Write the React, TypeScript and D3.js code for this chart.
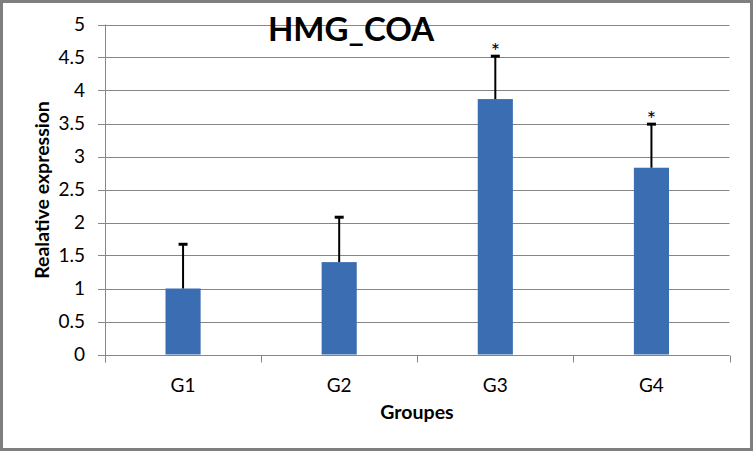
import { useEffect, useRef } from 'react';
import * as d3 from 'd3';

const groups = ['G1', 'G2', 'G3', 'G4'];
const means = [1.0, 1.4, 3.87, 2.83];
const errors = [0.67, 0.68, 0.65, 0.66];
const significant = [false, false, true, true];
const yTicks = [0, 0.5, 1, 1.5, 2, 2.5, 3, 3.5, 4, 4.5, 5];

export default function App() {
  const svgRef = useRef<SVGSVGElement>(null);

  useEffect(() => {
    if (!svgRef.current) return;
    document.body.style.margin = '0';

    const width = 753;
    const height = 451;
    const margin = { top: 24.5, right: 23.5, bottom: 96.5, left: 105 };
    const font = 'Lato, "Open Sans", sans-serif';
    const gridColor = '#868686';

    const svg = d3.select(svgRef.current);
    svg.selectAll('*').remove();

    svg.append('rect')
      .attr('x', 1.5).attr('y', 1.5)
      .attr('width', width - 3).attr('height', height - 3)
      .attr('fill', '#fff')
      .attr('stroke', '#7f7f7f')
      .attr('stroke-width', 3);

    const x = d3.scaleBand()
      .domain(groups)
      .range([margin.left, width - margin.right]);

    const y = d3.scaleLinear()
      .domain([0, 5])
      .range([height - margin.bottom, margin.top]);

    // horizontal grid with left tick marks
    svg.append('g')
      .selectAll('line')
      .data(yTicks.filter(d => d > 0))
      .join('line')
      .attr('x1', margin.left - 7)
      .attr('x2', width - margin.right)
      .attr('y1', d => Math.round(y(d)) + 0.5)
      .attr('y2', d => Math.round(y(d)) + 0.5)
      .attr('stroke', gridColor)
      .attr('stroke-width', 1);

    svg.append('g')
      .selectAll('text')
      .data(yTicks)
      .join('text')
      .attr('x', margin.left - 20)
      .attr('y', d => y(d))
      .attr('dy', '0.36em')
      .attr('text-anchor', 'end')
      .attr('font-family', font)
      .attr('font-size', 19)
      .attr('fill', '#000')
      .text(d => String(d));

    const x0 = x.range()[0];
    const x1 = x.range()[1];
    const y0 = Math.round(y(0)) + 0.5;

    // bars
    const bw = x.bandwidth() * 0.225;
    svg.append('g')
      .selectAll('rect')
      .data(groups)
      .join('rect')
      .attr('x', (d) => (x(d) as number) + x.bandwidth() / 2 - bw / 2)
      .attr('y', (_, i) => y(means[i]))
      .attr('width', bw)
      .attr('height', (_, i) => y(0) - y(means[i]))
      .attr('fill', '#3b6db3');

    // axes
    svg.append('line')
      .attr('x1', x0 - 7).attr('x2', x1)
      .attr('y1', y0).attr('y2', y0)
      .attr('stroke', gridColor);
    svg.append('line')
      .attr('x1', x0 + 0.5).attr('x2', x0 + 0.5)
      .attr('y1', y(5)).attr('y2', y0 + 7)
      .attr('stroke', gridColor);

    const catTicks = [...groups.map(g => x(g) as number), x1];
    svg.append('g')
      .selectAll('line')
      .data(catTicks)
      .join('line')
      .attr('x1', d => Math.round(d) + 0.5)
      .attr('x2', d => Math.round(d) + 0.5)
      .attr('y1', y0)
      .attr('y2', y0 + 7)
      .attr('stroke', gridColor);

    svg.append('g')
      .selectAll('text')
      .data(groups)
      .join('text')
      .attr('x', d => (x(d) as number) + x.bandwidth() / 2)
      .attr('y', y0 + 36)
      .attr('text-anchor', 'middle')
      .attr('font-family', font)
      .attr('font-size', 19)
      .text(d => d);

    // error bars
    const eb = svg.append('g').attr('stroke', '#000').attr('stroke-width', 2);
    groups.forEach((g, i) => {
      const cx = (x(g) as number) + x.bandwidth() / 2;
      const top = y(means[i] + errors[i]);
      eb.append('line')
        .attr('x1', cx).attr('x2', cx)
        .attr('y1', y(means[i])).attr('y2', top);
      eb.append('line')
        .attr('x1', cx - 4.5).attr('x2', cx + 4.5)
        .attr('y1', top).attr('y2', top)
        .attr('stroke-width', 3);
      if (significant[i]) {
        svg.append('text')
          .attr('x', cx)
          .attr('y', top + 3)
          .attr('text-anchor', 'middle')
          .attr('font-family', font)
          .attr('font-size', 22)
          .text('*');
      }
    });

    // title
    svg.append('text')
      .attr('x', 351)
      .attr('y', 41)
      .attr('text-anchor', 'middle')
      .attr('font-family', font)
      .attr('font-weight', 'bold')
      .attr('font-size', 33)
      .text('HMG_COA');

    svg.append('text')
      .attr('transform', `translate(49, ${(margin.top + y0) / 2}) rotate(-90)`)
      .attr('text-anchor', 'middle')
      .attr('font-family', font)
      .attr('font-weight', 'bold')
      .attr('font-size', 19.5)
      .text('Realative expression');

    svg.append('text')
      .attr('x', 417)
      .attr('y', 419)
      .attr('text-anchor', 'middle')
      .attr('font-family', font)
      .attr('font-weight', 'bold')
      .attr('font-size', 19.5)
      .text('Groupes');
  }, []);

  return (
    <svg
      ref={svgRef}
      width={753}
      height={451}
      style={{ position: 'absolute', left: 0, top: 0, display: 'block' }}
    />
  );
}
